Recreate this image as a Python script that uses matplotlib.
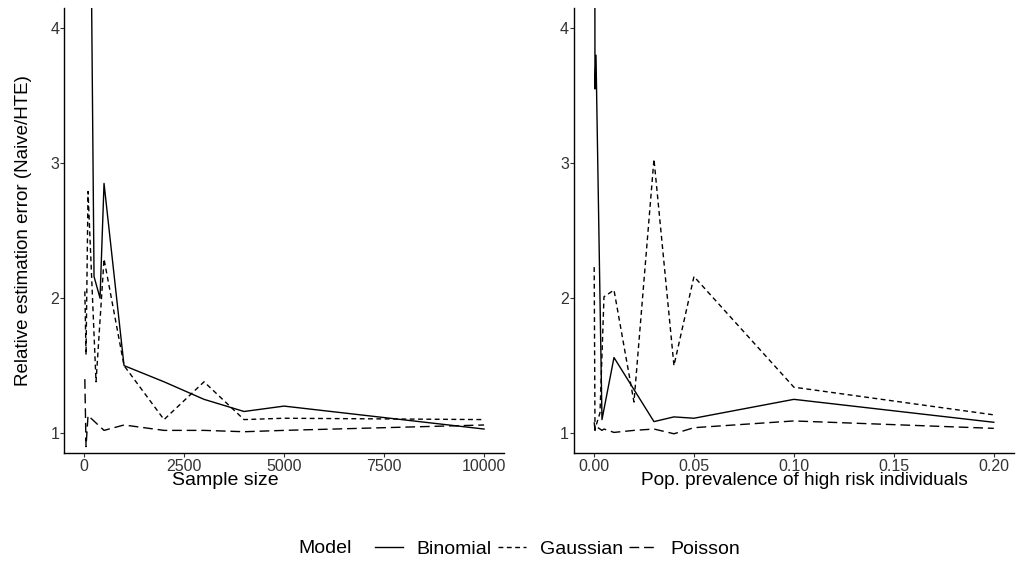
import matplotlib
matplotlib.use("Agg")
import matplotlib.pyplot as plt
from matplotlib.lines import Line2D
from matplotlib.ticker import FuncFormatter

plt.rcParams['font.family'] = ['Liberation Sans', 'DejaVu Sans']

# left panel: sample size
n_binomial = [20, 250, 400, 500, 1000, 2000, 3000, 4000, 5000, 10000]
err_binomial_n = [9.9, 2.16, 2.0, 2.85, 1.50, 1.38, 1.25, 1.16, 1.20, 1.03]
n_gaussian = [20, 50, 100, 300, 500, 1000, 2000, 3000, 4000, 5000, 10000]
err_gaussian_n = [2.05, 1.58, 2.79, 1.38, 2.29, 1.50, 1.10, 1.38, 1.10, 1.11, 1.10]
n_poisson = [20, 50, 100, 500, 1000, 2000, 3000, 4000, 5000, 10000]
err_poisson_n = [1.40, 0.90, 1.13, 1.02, 1.06, 1.02, 1.02, 1.01, 1.02, 1.06]

# right panel: prevalence of high risk individuals
p_binomial = [0.0001, 0.0005, 0.001, 0.004, 0.01, 0.03, 0.04, 0.05, 0.1, 0.2]
err_binomial_p = [8.0, 3.55, 3.80, 1.10, 1.56, 1.085, 1.12, 1.11, 1.25, 1.08]
p_gaussian = [0.0001, 0.0005, 0.003, 0.005, 0.01, 0.02, 0.03, 0.04, 0.05, 0.1, 0.2]
err_gaussian_p = [2.23, 1.03, 1.15, 2.01, 2.06, 1.23, 3.03, 1.50, 2.16, 1.34, 1.135]
p_poisson = [0.0001, 0.0005, 0.001, 0.004, 0.005, 0.01, 0.02, 0.03, 0.04, 0.05, 0.1, 0.2]
err_poisson_p = [1.08, 1.02, 1.05, 1.02, 1.03, 1.005, 1.02, 1.03, 0.995, 1.04, 1.09, 1.035]

styles = {
    'Binomial': dict(color='black', lw=1.0, linestyle='-'),
    'Gaussian': dict(color='black', lw=1.0, linestyle=(0, (3.5, 2.5))),
    'Poisson': dict(color='black', lw=1.0, linestyle=(0, (7, 3.5))),
}

fig = plt.figure(figsize=(10.23, 5.63), dpi=100)
ax1 = fig.add_axes([0.0630, 0.1948, 0.4297, 0.791])
ax2 = fig.add_axes([0.5613, 0.1948, 0.4297, 0.791])

ax1.plot(n_binomial, err_binomial_n, **styles['Binomial'])
ax1.plot(n_gaussian, err_gaussian_n, **styles['Gaussian'])
ax1.plot(n_poisson, err_poisson_n, **styles['Poisson'])
ax1.set_xlim(10 - 0.05 * 9990, 10000 + 0.05 * 9990)
ax1.set_xticks([0, 2500, 5000, 7500, 10000])
ax1.set_xlabel('Sample size', fontsize=14)
ax1.xaxis.set_label_coords(0.365, -0.041, transform=ax1.transAxes)
ax1.set_ylabel('Relative estimation error (Naive/HTE)', fontsize=13.5, labelpad=13)

ax2.plot(p_binomial, err_binomial_p, **styles['Binomial'])
ax2.plot(p_gaussian, err_gaussian_p, **styles['Gaussian'])
ax2.plot(p_poisson, err_poisson_p, **styles['Poisson'])
ax2.set_xlim(0.0001 - 0.05 * 0.1999, 0.2 + 0.05 * 0.1999)
ax2.set_xticks([0, 0.05, 0.10, 0.15, 0.20])
ax2.xaxis.set_major_formatter(FuncFormatter(lambda v, pos: f'{v:.2f}'))
ax2.set_xlabel('Pop. prevalence of high risk individuals', fontsize=13.7)
ax2.xaxis.set_label_coords(0.523, -0.041, transform=ax2.transAxes)

for ax in (ax1, ax2):
    ax.set_ylim(0.85, 4.15)
    ax.set_yticks([1, 2, 3, 4])
    ax.spines['top'].set_visible(False)
    ax.spines['right'].set_visible(False)
    ax.spines['left'].set_linewidth(1.0)
    ax.spines['bottom'].set_linewidth(1.0)
    ax.tick_params(length=2.75, width=0.8, color='#333333', labelsize=11.5,
                   labelcolor='#333333', pad=1)

handles = [Line2D([], [], **styles[k]) for k in ['Binomial', 'Gaussian', 'Poisson']]
fig.legend(handles, ['Binomial', 'Gaussian', 'Poisson'], loc='center',
           bbox_to_anchor=(0.545, 0.025), ncol=3, frameon=False, fontsize=14,
           handlelength=1.45, handletextpad=0.7, columnspacing=0.3)
fig.text(0.318, 0.025, 'Model', fontsize=14, ha='center', va='center')

fig.savefig('out.png', dpi=100)
